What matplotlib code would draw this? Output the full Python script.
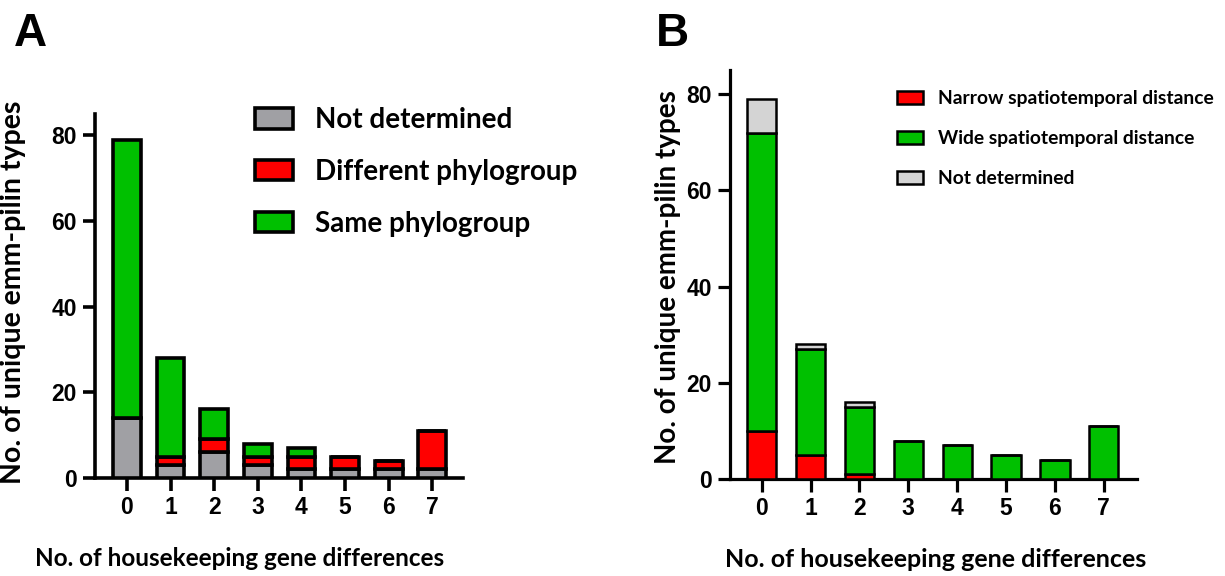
import matplotlib
matplotlib.use("Agg")
import matplotlib.pyplot as plt
import numpy as np

# x categories: number of housekeeping gene differences
diffs = [0, 1, 2, 3, 4, 5, 6, 7]

# Panel A: phylogroup of the pairs
a_not_determined = [14, 3, 6, 3, 2, 2, 2, 2]
a_different = [0, 2, 3, 2, 3, 3, 2, 9]
a_same = [65, 23, 7, 3, 2, 0, 0, 0]

# Panel B: spatiotemporal distance
b_narrow = [10, 5, 1, 0, 0, 0, 0, 0]
b_wide = [62, 22, 14, 8, 7, 5, 4, 11]
b_not_determined = [7, 1, 1, 0, 0, 0, 0, 0]

yticks = [0, 20, 40, 60, 80]

RED = "#ff0000"
GREEN = "#00c000"
GREY_A = "#a0a0a4"
GREY_B = "#d4d4d4"

W, H = 1225, 576
fig = plt.figure(figsize=(W / 100, H / 100), dpi=100)

def fx(px):
    return px / W

def fy(py):
    return 1 - py / H

tick_font = dict(family="Liberation Sans", weight="bold", size=16.5)
label_font = dict(family="Lato", weight="bold")


def style_axes(ax, lw, xlim):
    for s in ["top", "right"]:
        ax.spines[s].set_visible(False)
    for s in ["left", "bottom"]:
        ax.spines[s].set_linewidth(lw)
    ax.set_xlim(*xlim)
    ax.set_ylim(0, 85)
    ax.set_xticks(diffs)
    ax.set_yticks(yticks)
    ax.tick_params(length=9, width=lw, pad=4)
    for t in ax.get_xticklabels() + ax.get_yticklabels():
        t.set_fontproperties(matplotlib.font_manager.FontProperties(**tick_font))


# ---------- panel A ----------
axA = fig.add_axes([fx(95), fy(478), fx(463) - fx(95), fy(114) - fy(478)])
x = np.array(diffs)
wA = 0.64
lwA = 2.6
b1 = np.array(a_not_determined)
b2 = b1 + np.array(a_different)
axA.bar(x, a_not_determined, wA, color=GREY_A, edgecolor="black", linewidth=lwA,
        label="Not determined", zorder=3)
axA.bar(x, a_different, wA, bottom=b1, color=RED, edgecolor="black", linewidth=lwA,
        label="Different phylogroup", zorder=3)
axA.bar(x, a_same, wA, bottom=b2, color=GREEN, edgecolor="black", linewidth=lwA,
        label="Same phylogroup", zorder=3)
style_axes(axA, 2.6, (-0.73, 7.7))

axA.legend(loc="upper left", bbox_to_anchor=(fx(255), fy(107)),
           bbox_transform=fig.transFigure, frameon=False,
           prop=dict(family="Lato", weight="bold", size=20),
           handlelength=1.37, handleheight=0.76, handletextpad=0.8,
           labelspacing=0.93, borderpad=0, borderaxespad=0)

fig.text(fx(13), fy(292), "No. of unique emm-pilin types", rotation=90,
         ha="center", va="center", size=20.5, **label_font)
fig.text(fx(240), fy(566), "No. of housekeeping gene differences",
         ha="center", va="baseline", size=17.5, **label_font)
fig.text(fx(14), fy(46), "A", ha="left", va="baseline", size=33,
         family="Liberation Sans", weight="bold")

# ---------- panel B ----------
axB = fig.add_axes([fx(730), fy(479), fx(1137) - fx(730), fy(70) - fy(479)])
wB = 0.6
lwB = 1.8
c1 = np.array(b_narrow)
c2 = c1 + np.array(b_wide)
axB.bar(x, b_narrow, wB, color=RED, edgecolor="black", linewidth=lwB,
        label="Narrow spatiotemporal distance", zorder=3)
axB.bar(x, b_wide, wB, bottom=c1, color=GREEN, edgecolor="black", linewidth=lwB,
        label="Wide spatiotemporal distance", zorder=3)
axB.bar(x, b_not_determined, wB, bottom=c2, color=GREY_B, edgecolor="black",
        linewidth=lwB, label="Not determined", zorder=3)
style_axes(axB, 2.3, (-0.65, 7.68))

axB.legend(loc="upper left", bbox_to_anchor=(fx(897), fy(90)),
           bbox_transform=fig.transFigure, frameon=False,
           prop=dict(family="Lato", weight="bold", size=13.9),
           handlelength=1.35, handleheight=0.67, handletextpad=0.78,
           labelspacing=1.2, borderpad=0, borderaxespad=0)

fig.text(fx(668), fy(277), "No. of unique emm-pilin types", rotation=90,
         ha="center", va="center", size=20, **label_font)
fig.text(fx(936), fy(567), "No. of housekeeping gene differences",
         ha="center", va="baseline", size=18, **label_font)
fig.text(fx(656), fy(46), "B", ha="left", va="baseline", size=33,
         family="Liberation Sans", weight="bold")

fig.savefig("out.png", dpi=100)
